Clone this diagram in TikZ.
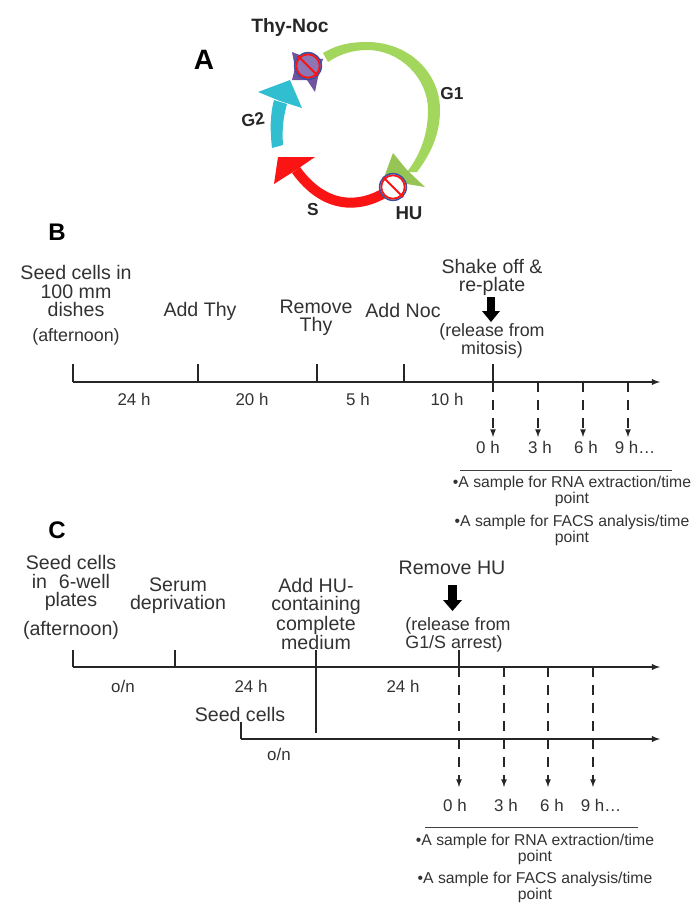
\documentclass[tikz,border=0pt]{standalone}
\usepackage{fontspec}
\setmainfont{Liberation Sans}
\definecolor{txtgray}{RGB}{50,50,50}
\definecolor{gonegreen}{RGB}{163,214,92}
\definecolor{gtwoblue}{RGB}{48,190,208}
\definecolor{sred}{RGB}{250,20,20}
\definecolor{nocpurple}{RGB}{112,84,160}
\definecolor{ringblue}{RGB}{60,80,160}
\tikzset{
    biglabel/.style={text=txtgray, align=center, inner sep=0pt, font=\fontsize{14.7}{13.6}\selectfont},
    steplabel/.style={text=txtgray, align=center, inner sep=0pt, font=\fontsize{13.4}{12}\selectfont},
    hourlabel/.style={text=txtgray, inner sep=0pt, font=\fontsize{12.7}{12}\selectfont},
    samplelabel/.style={text=txtgray, align=center, inner sep=0pt, font=\fontsize{11.8}{10.9}\selectfont},
    cyclelabel/.style={text=black!85, inner sep=0pt, font=\fontsize{13}{13}\bfseries\selectfont},
    panellabel/.style={text=black, inner sep=0pt, font=\fontsize{18}{18}\bfseries\selectfont},
    axisline/.style={-latex, line width=1.1pt, black!85},
    tickline/.style={black!85, line width=0.8pt},
    ruleline/.style={black!75, line width=0.6pt},
    samplearrow/.style={-latex, line width=1pt, dash pattern=on 7.5pt off 6pt, black!85},
}
\begin{document}
\begin{tikzpicture}[x=0.75pt, y=-0.75pt]
    \useasboundingbox (0,0) rectangle (700,915);

    % Cell cycle
    \fill[gonegreen] (323,53) .. controls (338,44) and (352,42) .. (367,42)
        .. controls (408,42) and (440,72) .. (440,110)
        .. controls (440,135) and (430,155) .. (417,172) -- (407,172)
        .. controls (420,155) and (428,135) .. (428,110)
        .. controls (428,78) and (400,50) .. (367,50)
        .. controls (353,50) and (340,54) .. (328,62) -- cycle;
    \fill[gonegreen!92!black] (393,153) -- (407,170) -- (425,187) -- (383,180) -- cycle;
    \draw[sred, line width=7.5pt] (386,192) .. controls (360,208) and (325,210) .. (296,170);
    \fill[sred] (278,157) -- (315,157) -- (296,170) -- (274,184) -- cycle;
    \fill[gtwoblue] (272,148) .. controls (270,130) and (270,115) .. (274,100) -- (287,104)
        .. controls (283,118) and (282,130) .. (283,145) -- cycle;
    \fill[gtwoblue] (258,92) -- (290,80) -- (302,108) -- (280,101) -- cycle;
    \fill[nocpurple] (292,52) -- (305,57) -- (323,59) -- (319,72) -- (315,92) -- (307,80)
        -- (292,80) -- (295,68) -- cycle;

    % Blocks
    \foreach \name/\x/\y/\inner in {thyblock/308/66/nocpurple!80, hublock/393/187/white} {
        \node[circle, minimum size=20pt, inner sep=0pt, fill=\inner, draw=ringblue, line width=1.2pt] (\name) at (\x,\y) {};
        \node[circle, minimum size=17.5pt, inner sep=0pt, draw=sred, line width=1.3pt] at (\x,\y) {};
        \draw[sred, line width=1.5pt] (\name.north west) -- (\name.south east);
    }

    \node[panellabel, font=\fontsize{21}{21}\bfseries\selectfont] (panela) at (204,60) {A};
    \node[cyclelabel, font=\fontsize{14.5}{14}\bfseries\selectfont] (thynoc) at (290,27) {Thy-Noc};
    \node[cyclelabel] (gone) at (452,94) {G1};
    \node[cyclelabel, rotate=10] (gtwo) at (253,120) {G2};
    \node[cyclelabel] (sphase) at (313,210) {S};
    \node[cyclelabel, font=\fontsize{14}{14}\bfseries\selectfont] (hu) at (409,213) {HU};

    % Thy-Noc protocol
    \node[panellabel] (panelb) at (57,232) {B};
    \coordinate (bstart) at (73,382);
    \coordinate (bend) at (660,382);
    \draw[axisline] (bstart) -- (bend);
    \foreach \x in {73,198,317,404,493} {
        \coordinate (btick\x) at (\x,382);
        \draw[tickline] (btick\x) -- ++(0,-18);
    }
    \foreach \x in {493,538,583,628} {
        \coordinate (bfrom\x) at (\x,382);
        \coordinate (bto\x) at (\x,437);
        \draw[samplearrow] (bfrom\x) -- (bto\x);
    }
    \node[biglabel] (bseed) at (76,291) {Seed cells in\\100 mm\\dishes};
    \node[steplabel] (bafter) at (76,337) {(afternoon)};
    \node[biglabel] (addthy) at (200,311) {Add Thy};
    \node[biglabel] (remthy) at (316,318) {Remove\\Thy};
    \node[biglabel] (addnoc) at (403,310) {Add Noc};
    \node[biglabel] (shake) at (492,277) {Shake off \&\\re-plate};
    \fill[black] (487,297) rectangle (495,311);
    \fill[black] (482,311) -- (500,311) -- (491,322) -- cycle;
    \node[steplabel] (brelease) at (492,341) {(release from\\mitosis)};
    \foreach \x/\t/\name in {134/24 h/bia,252/20 h/bib,358/5 h/bic,447/10 h/bid} {
        \node[hourlabel] (\name) at (\x,399) {\t};
    }
    \foreach \x/\t/\name in {488/0 h/bza,540/3 h/bzb,586/6 h/bzc,635/9 h…/bzd} {
        \node[hourlabel] (\name) at (\x,447) {\t};
    }
    \coordinate (bruleA) at (460,470);
    \coordinate (bruleB) at (672,470);
    \draw[ruleline] (bruleA) -- (bruleB);
    \node[samplelabel] (brna) at (572,491) {•A sample for RNA extraction/time\\point};
    \node[samplelabel] (bfacs) at (572,530) {•A sample for FACS analysis/time\\point};

    % HU protocol
    \node[panellabel] (panelc) at (57,530) {C};
    \coordinate (cstart) at (73,667);
    \coordinate (cend) at (660,667);
    \draw[axisline] (cstart) -- (cend);
    \coordinate (dstart) at (241,739);
    \coordinate (dend) at (660,739);
    \draw[axisline] (dstart) -- (dend);
    \draw[tickline] (dstart) -- ++(0,-17);
    \foreach \x in {73,175} {
        \coordinate (ctick\x) at (\x,667);
        \draw[tickline] (ctick\x) -- ++(0,-17);
    }
    \coordinate (chutop) at (316,650);
    \coordinate (chubot) at (316,733);
    \draw[tickline] (chutop) -- (chubot);
    \coordinate (creltop) at (459,650);
    \coordinate (crelbot) at (459,667);
    \draw[tickline] (creltop) -- (crelbot);
    \foreach \x in {459,504,548,593} {
        \coordinate (cfrom\x) at (\x,667);
        \coordinate (cto\x) at (\x,787);
        \draw[samplearrow] (cfrom\x) -- (cto\x);
    }
    \node[biglabel] (cseed) at (71,583) {Seed cells\\in\hspace{0.6em}6-well\\plates};
    \node[biglabel] (cafter) at (71,630) {(afternoon)};
    \node[biglabel] (serum) at (178,596) {Serum\\deprivation};
    \node[biglabel] (addhu) at (316,614) {Add HU-\\containing\\complete\\medium};
    \node[biglabel] (remhu) at (452,568) {Remove HU};
    \fill[black] (448,585) rectangle (457,600);
    \fill[black] (443,600) -- (462,600) -- (452.5,611) -- cycle;
    \node[steplabel, align=left] (crelease) at (458,635) {(release from\\G1/S arrest)};
    \node[hourlabel] (cona) at (123,686) {o/n};
    \node[hourlabel] (cia) at (251,686) {24 h};
    \node[hourlabel] (cib) at (403,686) {24 h};
    \node[biglabel] (seedb) at (240,714) {Seed cells};
    \node[hourlabel] (conb) at (279,754) {o/n};
    \foreach \x/\t/\name in {455/0 h/cza,506/3 h/czb,552/6 h/czc,601/9 h…/czd} {
        \node[hourlabel] (\name) at (\x,805) {\t};
    }
    \coordinate (cruleA) at (425,827);
    \coordinate (cruleB) at (638,827);
    \draw[ruleline] (cruleA) -- (cruleB);
    \node[samplelabel] (crna) at (535,849) {•A sample for RNA extraction/time\\point};
    \node[samplelabel] (cfacs) at (535,887) {•A sample for FACS analysis/time\\point};
\end{tikzpicture}
\end{document}
